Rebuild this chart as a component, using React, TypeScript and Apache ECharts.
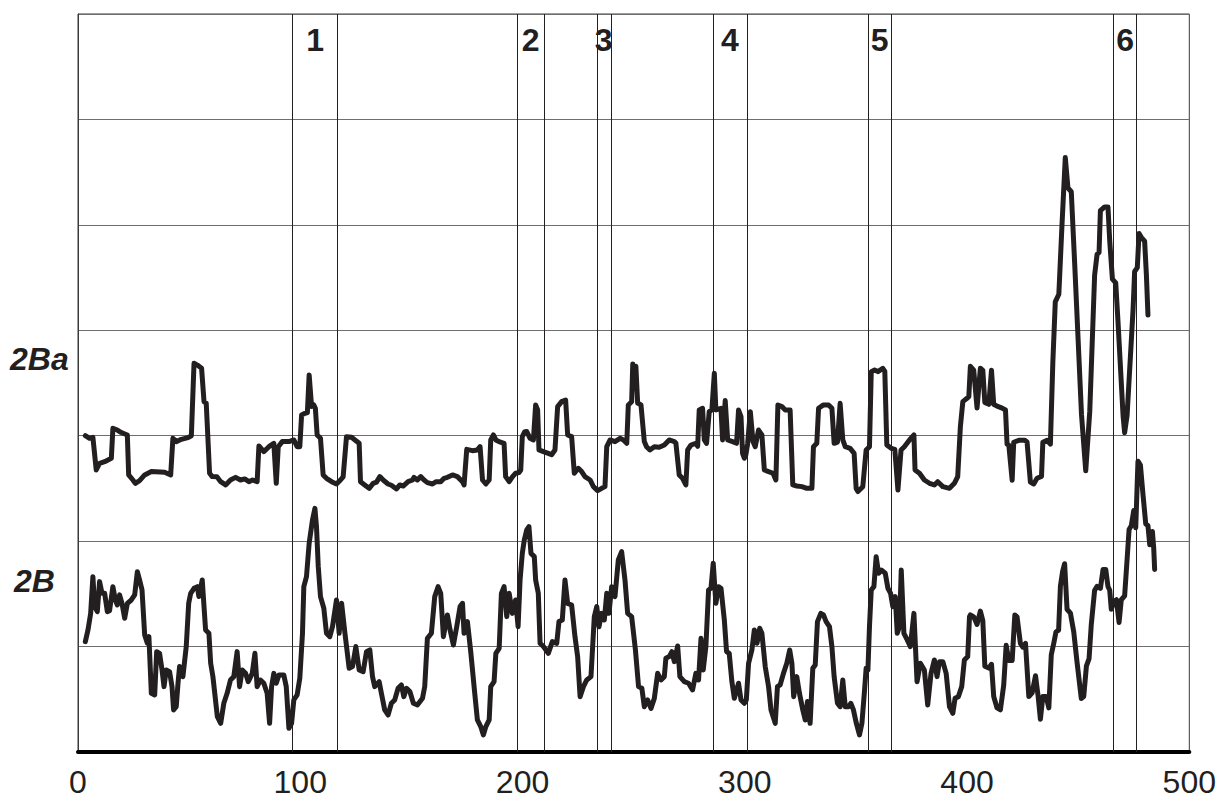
import React, { useEffect, useRef } from "react";
import * as echarts from "echarts";

// x positions of the vertical marker lines (pairs)
const markerPairs: [number, number, string][] = [
  [96.5, 116.8, "1"],
  [197.6, 209.7, "2"],
  [233.4, 239.7, "3"],
  [285.8, 300.9, "4"],
  [355.7, 365.7, "5"],
  [466.0, 476.2, "6"],
];

const xTicks = [0, 100, 200, 300, 400, 500];

// Series "2Ba" (upper trace) [x, value]
const series2Ba: [number, number][] = [
  [3.3,3.0],[5.2,2.975],[6.7,2.985],[8.2,2.675],[9.7,2.738],[12.0,2.754],[15.0,2.786],[15.7,3.07],[17.7,3.054],[19.5,3.03],[22.2,3.007],[22.8,2.628],[24.7,2.58],[25.8,2.548],[27.7,2.574],[30.0,2.628],[33.0,2.66],[39.0,2.653],[41.7,2.628],[42.7,2.975],[44.2,2.944],[46.5,2.966],[49.5,2.982],[51.0,3.0],
  [52.2,3.687],[53.7,3.67],[55.6,3.64],[56.7,3.323],[57.7,3.307],[59.2,2.644],[60.4,2.612],[62.5,2.61],[64.2,2.564],[66.4,2.533],[68.6,2.58],[70.9,2.605],[73.1,2.58],[75.0,2.59],[76.9,2.564],[78.5,2.58],[80.6,2.564],[81.4,2.903],[83.6,2.849],[85.9,2.896],[88.1,2.928],[89.2,2.549],[90.1,2.896],[91.9,2.944],[94.9,2.944],[97.1,2.96],[98.6,2.896],[99.8,2.896],
  [100.6,3.197],[102.1,3.212],[103.2,3.22],[104.0,3.576],[105.1,3.276],[106.1,3.292],[106.8,3.26],[107.6,3.007],[109.1,2.975],[110.3,2.628],[111.8,2.596],[114.1,2.564],[116.3,2.542],[118.1,2.58],[119.3,2.61],[120.8,2.991],[123.1,2.985],[124.6,2.96],[126.5,2.928],[127.1,2.564],[129.0,2.533],[131.0,2.501],[132.8,2.548],[134.3,2.56],[135.8,2.612],[137.3,2.58],[139.5,2.542],[141.0,2.53],[143.3,2.495],[144.8,2.533],[146.3,2.523],[148.5,2.564],[150.5,2.58],
  [151.2,2.605],[152.7,2.58],[154.2,2.612],[155.7,2.58],[157.2,2.555],[159.5,2.542],[161.0,2.564],[163.2,2.564],[164.7,2.596],[166.2,2.605],[168.5,2.628],[170.7,2.612],[173.0,2.564],[173.7,2.533],[174.9,2.871],[177.5,2.858],[179.7,2.865],[180.9,2.896],[182.0,2.58],[183.5,2.542],[185.0,2.58],[185.7,2.96],[186.9,3.007],[188.0,2.96],[189.4,2.944],[191.7,2.928],[192.4,2.612],[194.0,2.564],[195.5,2.612],[196.9,2.644],[198.4,2.65],[199.2,2.675],[199.9,2.991],
  [201.0,3.038],[201.9,3.039],[203.4,2.975],[204.9,2.96],[205.9,3.292],[206.8,3.244],[207.4,2.865],[209.4,2.849],[211.6,2.833],[213.1,2.82],[214.6,2.865],[215.8,3.276],[217.6,3.323],[219.4,3.339],[220.3,3.007],[222.1,2.991],[223.3,2.644],[225.1,2.691],[226.6,2.66],[228.1,2.612],[230.4,2.58],[231.9,2.517],[233.8,2.479],[235.6,2.501],[237.1,2.517],[237.9,2.896],[239.4,2.96],[241.6,2.944],[243.9,2.975],[245.4,2.96],[246.9,2.928],[247.6,3.292],[249.1,3.323],
  [249.6,3.68],[250.4,3.45],[251.0,3.66],[251.8,3.31],[253.3,3.292],[254.8,2.944],[255.8,2.896],[257.3,2.865],[259.3,2.896],[261.5,2.89],[263.8,2.912],[266.0,2.96],[268.3,2.944],[269.0,2.93],[270.5,2.628],[272.0,2.596],[273.5,2.533],[274.3,2.865],[275.8,2.912],[278.0,2.928],[278.8,2.9],[279.5,3.244],[281.0,3.26],[281.8,2.96],[282.8,2.928],[284.0,3.228],[285.2,3.244],[286.3,3.592],[287.0,3.244],[289.3,3.26],[290.0,2.96],[291.2,3.333],[292.3,2.96],[294.5,2.944],[296.3,2.928],[297.2,3.244],[298.3,3.181],[299.0,2.833],[299.8,2.786],
  [300.5,2.82],[301.3,2.928],[302.5,3.228],[303.7,2.944],[304.7,2.896],[306.2,3.054],[307.7,3.007],[308.8,2.675],[310.7,2.659],[312.7,2.644],[314.0,2.58],[314.9,3.292],[316.7,3.276],[318.2,3.244],[320.4,3.244],[321.6,2.533],[323.4,2.523],[325.7,2.517],[327.9,2.501],[330.2,2.501],[330.9,2.896],[332.4,2.928],[333.2,3.26],[335.4,3.292],[337.7,3.292],[339.2,3.26],[340.2,2.928],[341.7,2.94],[342.9,3.307],[344.1,2.96],[345.2,2.896],[347.4,2.88],[349.2,2.833],
  [350.1,2.5],[350.9,2.47],[353.1,2.517],[354.6,2.865],[356.1,2.896],[356.9,3.608],[358.4,3.624],[359.9,3.608],[362.1,3.639],[363.0,3.61],[363.9,2.912],[365.9,2.88],[367.5,2.87],[368.9,2.485],[370.3,2.865],[371.8,2.896],[374.1,2.96],[376.1,3.007],[376.6,2.675],[378.6,2.644],[380.8,2.58],[383.1,2.549],[385.3,2.533],[386.8,2.564],[389.1,2.517],[392.1,2.501],[394.3,2.549],[395.8,2.612],[397.0,3.086],[398.1,3.323],[400.0,3.355],
  [400.8,3.37],[401.5,3.658],[403.0,3.622],[404.5,3.262],[406.0,3.64],[407.1,3.62],[408.0,3.316],[409.8,3.298],[411.0,3.622],[412.0,3.298],[413.5,3.28],[415.8,3.262],[417.3,3.244],[418.0,2.92],[418.8,2.91],[420.3,2.578],[421.0,2.938],[423.3,2.956],[426.0,2.956],[427.0,2.94],[428.5,2.56],[430.0,2.542],[431.5,2.596],[433.5,2.614],[434.1,2.938],[436.0,2.956],[437.5,2.92],[438.6,3.694],[439.7,4.27],[441.3,4.342],[442.7,4.99],[444.2,5.638],[445.4,5.35],[446.9,5.314],[448.5,4.6],[450.0,3.9],
  [451.5,3.2],[453.4,2.668],[455.2,3.226],[457.4,4.522],[458.5,4.72],[459.4,4.738],[460.0,5.134],[461.9,5.17],[463.4,5.17],[464.2,4.846],[465.4,4.486],[466.9,4.45],[467.9,4.09],[470.2,3.19],[470.9,3.028],[472.0,3.19],[474.7,4.198],[475.4,4.558],[476.6,4.594],[477.4,4.918],[478.4,4.882],[479.9,4.846],[480.7,4.522],[481.4,4.144],
];

// Series "2B" (lower trace) [x, value]
const series2B: [number, number][] = [
  [3.3,1.047],[4.5,1.158],[5.7,1.315],[6.7,1.663],[7.5,1.379],[8.7,1.331],[9.7,1.616],[10.8,1.505],[12.0,1.505],[13.2,1.331],[14.2,1.34],[15.7,1.568],[16.8,1.442],[17.7,1.394],[18.7,1.49],[19.8,1.41],[21.0,1.268],[22.2,1.41],[24.0,1.442],[25.5,1.49],[26.7,1.71],[27.7,1.632],[28.8,1.537],[30.0,1.11],[31.2,1.031],[31.9,1.094],[33.0,0.557],[34.5,0.541],[35.4,0.952],[36.7,0.936],[37.8,0.778],[38.7,0.62],[39.7,0.778],[41.2,0.762],[42.3,0.62],[43.0,0.399],[44.2,0.43],[45.0,0.652],[45.7,0.81],[47.2,0.715],[48.7,1.0],[49.8,1.41],
  [50.7,1.505],[52.2,1.553],[53.7,1.568],[54.4,1.474],[55.9,1.632],[56.7,1.379],[57.4,1.158],[58.9,1.126],[59.7,0.841],[60.7,0.715],[62.7,0.335],[64.2,0.272],[65.6,0.462],[67.1,0.557],[68.6,0.683],[70.1,0.715],[71.6,0.952],[72.7,0.62],[73.9,0.778],[75.4,0.746],[76.6,0.667],[78.4,0.746],[79.6,0.936],[80.6,0.62],[82.1,0.683],[83.6,0.652],[85.1,0.557],[86.2,0.272],[87.1,0.62],[88.1,0.746],[89.2,0.652],[90.4,0.731],[92.6,0.731],[93.7,0.62],[94.9,0.225],[96.1,0.272],[97.1,0.494],[98.6,0.541],[99.8,0.7],
  [101.0,1.126],[101.6,1.568],[102.8,1.663],[104.0,1.979],[105.5,2.201],[106.6,2.311],[107.3,2.138],[108.1,1.758],[109.1,1.474],[110.6,1.363],[111.8,1.126],[113.3,1.094],[114.5,1.189],[116.3,1.442],[117.5,1.126],[118.6,1.41],[120.1,1.126],[122.0,0.794],[123.5,0.81],[125.0,1.0],[126.5,0.778],[128.3,0.762],[129.8,0.952],[131.3,0.968],[132.5,0.715],[133.5,0.62],[135.5,0.667],[136.5,0.557],[138.0,0.399],[139.5,0.351],[141.0,0.462],[142.5,0.494],[144.0,0.604],[145.5,0.636],[146.6,0.525],[147.8,0.604],[149.3,0.573],
  [150.9,0.462],[152.7,0.446],[155.0,0.509],[156.0,0.62],[157.2,1.078],[159.0,1.126],[160.5,1.474],[162.0,1.568],[163.2,1.505],[164.4,1.094],[166.2,1.3],[167.4,1.158],[168.9,1.015],[170.4,1.189],[171.9,1.379],[173.0,1.41],[173.7,1.126],[175.2,1.237],[176.7,0.952],[178.5,0.557],[179.7,0.304],[181.2,0.241],[182.4,0.162],[183.5,0.241],[185.0,0.304],[185.7,0.62],[187.2,0.667],[188.0,0.936],[189.5,0.984],[190.5,1.505],[191.7,1.568],[192.9,1.284],[194.0,1.505],[195.4,1.315],[196.9,1.442],[198.0,1.189],[198.9,1.632],[199.9,1.884],
  [200.8,2.011],[201.9,2.106],[202.9,2.138],[203.8,1.884],[205.3,1.853],[205.9,1.632],[207.1,1.505],[207.9,1.031],[209.4,1.0],[211.6,0.936],[213.4,1.047],[215.4,1.031],[216.4,1.237],[217.9,1.252],[219.1,1.632],[220.3,1.41],[222.1,1.394],[223.6,1.094],[224.8,0.905],[225.9,0.525],[227.4,0.62],[228.9,0.683],[230.8,0.715],[232.3,1.284],[233.4,1.379],[234.4,1.189],[235.6,1.315],[236.8,1.252],[237.9,1.505],[238.9,1.315],[240.1,1.568],[241.6,1.474],[243.1,1.821],[244.6,1.9],[246.1,1.632],[247.3,1.315],[249.1,1.284],
  [250.8,0.968],[252.2,0.62],[253.7,0.604],[254.8,0.43],[256.3,0.494],[257.8,0.414],[259.3,0.509],[260.8,0.746],[262.3,0.683],[263.8,0.715],[264.5,0.889],[266.0,0.905],[267.2,0.952],[268.3,0.857],[269.8,1.006],[270.8,0.715],[272.8,0.667],[274.7,0.652],[276.5,0.589],[278.0,0.746],[279.2,0.683],[280.3,1.078],[281.3,0.778],[282.5,1.0],[283.7,1.537],[284.8,1.553],[285.8,1.79],[287.0,1.41],[288.2,1.568],[289.3,1.553],[290.8,1.252],[291.8,0.952],[293.0,0.936],[294.2,0.667],[295.3,0.509],[297.2,0.652],[298.3,0.494],[299.8,0.462],
  [300.7,0.494],[301.7,0.841],[303.2,0.968],[304.3,1.158],[305.5,1.031],[306.7,1.173],[307.7,1.126],[309.2,0.81],[310.7,0.62],[311.8,0.399],[313.7,0.272],[314.7,0.62],[315.9,0.636],[317.4,0.746],[318.9,0.841],[320.2,0.968],[321.2,0.841],[322.0,0.525],[323.4,0.715],[324.6,0.557],[326.1,0.399],[327.2,0.304],[328.2,0.478],[329.4,0.272],[330.6,0.794],[331.7,0.826],[332.7,1.237],[334.2,1.315],[335.4,1.3],[336.6,1.237],[338.1,1.189],[339.2,1.0],[340.2,0.715],[341.7,0.462],[342.9,0.43],[344.1,0.683],[345.2,0.43],[346.7,0.43],[347.7,0.462],[348.9,0.399],
  [350.1,0.28],[351.6,0.162],[352.7,0.272],[353.9,0.589],[354.6,0.794],[355.4,0.778],[356.1,1.189],[356.9,1.537],[358.1,1.568],[359.1,1.853],[360.2,1.695],[361.4,1.726],[363.2,1.695],[364.4,1.553],[365.6,1.505],[366.6,1.379],[367.7,1.474],[368.6,1.126],[369.6,1.189],[370.4,1.726],[371.6,1.126],[373.1,1.063],[374.5,1.0],[376.1,1.315],[377.5,0.667],[379.0,0.841],[380.8,0.778],[382.3,0.446],[383.8,0.746],[385.3,0.873],[386.5,0.715],[387.6,0.857],[389.1,0.857],[390.6,0.746],[392.1,0.43],[393.6,0.367],[394.6,0.509],[396.1,0.525],[397.6,0.62],[398.8,0.873],[400.3,0.905],
  [401.1,1.284],[401.5,1.3],[403.0,1.282],[404.5,1.21],[406.0,1.336],[407.1,1.246],[408.0,0.814],[409.8,0.796],[411.0,0.832],[412.0,0.526],[413.5,0.418],[415.0,0.4],[416.5,0.634],[417.6,1.012],[418.8,0.868],[420.3,0.868],[421.5,1.3],[422.5,1.282],[424.0,1.03],[425.1,0.994],[426.3,1.03],[427.8,0.526],[429.3,0.562],[430.8,0.724],[432.0,0.526],[433.0,0.31],[434.1,0.526],[435.6,0.526],[436.8,0.418],[437.9,0.922],[439.0,1.03],[440.0,1.138],[441.2,1.156],[442.0,1.57],[443.0,1.714],[443.9,1.786],[445.0,1.354],[446.5,1.318],[448.0,1.14],[449.5,0.85],
  [451.4,0.508],[452.5,0.526],[453.7,0.814],[454.9,0.886],[455.9,1.21],[457.4,1.534],[458.5,1.57],[460.0,1.552],[461.2,1.732],[462.4,1.732],[463.4,1.57],[464.2,1.534],[464.9,1.354],[466.0,1.426],[467.2,1.444],[468.4,1.228],[469.4,1.444],[470.9,1.48],[472.0,1.822],[472.9,2.11],[473.9,2.146],[475.0,2.29],[475.9,2.128],[476.9,2.758],[478.0,2.722],[479.2,2.434],[480.4,2.164],[481.4,2.146],[482.2,1.966],[483.4,2.092],[484.0,1.93],[484.4,1.732],
];

const seriesLabels = [
  { text: "2Ba", x: 10, y: 361 },
  { text: "2B", x: 14, y: 583 },
];

const INK = "#231f20";
const FONT = '"Liberation Sans", Arial, sans-serif';

export default function App() {
  const ref = useRef<HTMLDivElement>(null);
  useEffect(() => {
    if (!ref.current) return;
    const chart = echarts.init(ref.current, undefined, { renderer: "svg" });
    const lineStyle = { color: INK, width: 5, cap: "round", join: "round" };
    chart.setOption({
      animation: false,
      backgroundColor: "#ffffff",
      grid: { left: 78, right: 29, top: 14, bottom: 60, show: true, borderColor: "#3a3a3a", borderWidth: 1 },
      xAxis: {
        type: "value",
        min: 0,
        max: 500,
        interval: 100,
        axisLine: { show: true, lineStyle: { color: "#000", width: 4 } },
        axisTick: { show: false },
        splitLine: { show: false },
        axisLabel: {
          color: INK,
          fontSize: 32,
          fontFamily: FONT,
          margin: 14,
          formatter: (v: number) => (xTicks.includes(v) ? String(v) : ""),
        },
      },
      yAxis: {
        type: "value",
        min: 0,
        max: 7,
        interval: 1,
        axisLine: { show: true, lineStyle: { color: "#3a3a3a", width: 1 } },
        axisTick: { show: false },
        axisLabel: { show: false },
        splitLine: { show: true, lineStyle: { color: "#6d6e71", width: 1 } },
      },
      graphic: seriesLabels.map((l) => ({
        type: "text",
        left: l.x,
        top: l.y - 18,
        style: {
          text: l.text,
          fontSize: 32,
          fontWeight: "bold",
          fontStyle: "italic",
          fontFamily: FONT,
          fill: INK,
        },
      })),
      series: [
        {
          type: "line",
          name: "2Ba",
          data: series2Ba,
          showSymbol: false,
          symbol: "none",
          lineStyle,
          silent: true,
          z: 3,
          markLine: {
            silent: true,
            symbol: "none",
            label: { show: false },
            lineStyle: { color: INK, width: 1, type: "solid" },
            data: markerPairs.flatMap(([a, b]) => [{ xAxis: a }, { xAxis: b }]),
          },
          markArea: {
            silent: true,
            itemStyle: { color: "rgba(0,0,0,0)" },
            label: {
              show: true,
              position: "insideTop",
              distance: 10,
              color: INK,
              fontSize: 32,
              fontWeight: "bold",
              fontFamily: FONT,
            },
            data: markerPairs.map(([a, b, n]) => [{ xAxis: a, name: n }, { xAxis: b }]),
          },
        },
        {
          type: "line",
          name: "2B",
          data: series2B,
          showSymbol: false,
          symbol: "none",
          lineStyle,
          silent: true,
          z: 3,
        },
      ],
    });
    return () => chart.dispose();
  }, []);
  return (
    <div
      ref={ref}
      style={{ position: "fixed", left: 0, top: 0, width: 1219, height: 812, background: "#fff" }}
    />
  );
}
